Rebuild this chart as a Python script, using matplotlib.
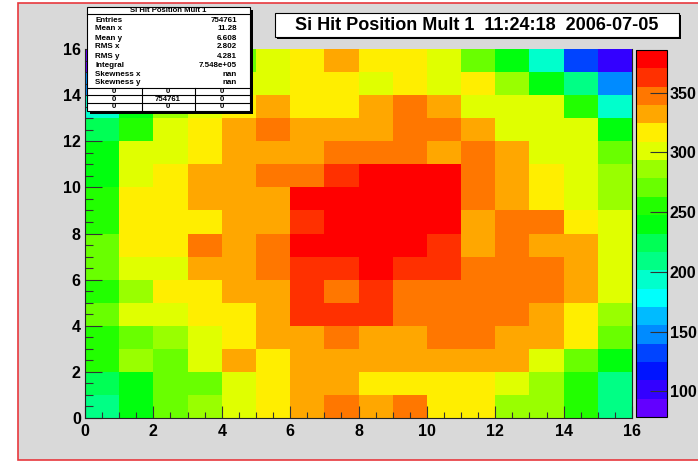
import colorsys
import matplotlib
matplotlib.use('Agg')
import matplotlib.pyplot as plt
import numpy as np
from matplotlib.colors import ListedColormap, BoundaryNorm
from matplotlib.patches import Rectangle
from matplotlib.lines import Line2D

# bin contents, top row (y bin 15) first, x bins 0..15 left to right
COUNTS = [
    [86, 132, 178, 224, 270, 301, 317, 332, 317, 317, 301, 270, 240, 194, 132, 102],
    [148, 209, 255, 286, 301, 301, 317, 317, 301, 317, 301, 317, 286, 240, 209, 148],
    [194, 240, 286, 301, 317, 332, 317, 317, 332, 347, 332, 301, 301, 301, 255, 194],
    [224, 255, 301, 317, 332, 347, 332, 332, 332, 347, 347, 332, 301, 301, 301, 240],
    [240, 301, 301, 317, 332, 332, 332, 347, 347, 347, 332, 347, 332, 301, 301, 270],
    [240, 301, 317, 332, 332, 347, 347, 362, 378, 378, 378, 347, 332, 317, 301, 286],
    [255, 317, 317, 332, 332, 332, 378, 378, 378, 378, 378, 347, 332, 317, 301, 286],
    [255, 317, 317, 317, 332, 332, 362, 378, 378, 378, 378, 332, 347, 347, 317, 301],
    [270, 317, 317, 347, 332, 347, 378, 378, 378, 378, 362, 332, 347, 332, 332, 301],
    [270, 301, 301, 332, 332, 347, 362, 362, 378, 362, 362, 347, 347, 347, 332, 301],
    [255, 286, 317, 317, 332, 332, 362, 347, 362, 347, 347, 347, 347, 347, 332, 301],
    [270, 301, 301, 317, 317, 332, 362, 362, 362, 347, 347, 347, 347, 332, 317, 286],
    [255, 270, 286, 301, 317, 332, 332, 347, 332, 332, 347, 347, 332, 332, 317, 270],
    [255, 286, 270, 301, 332, 317, 332, 332, 332, 332, 332, 332, 332, 301, 270, 240],
    [224, 240, 270, 270, 301, 317, 332, 332, 317, 317, 317, 317, 301, 286, 255, 209],
    [209, 240, 270, 286, 301, 317, 332, 347, 332, 347, 317, 317, 286, 286, 255, 209],
]
Z_MIN = 78.6
Z_MAX = 385.6
N_LEVELS = 20
Z_TICKS = [100, 150, 200, 250, 300, 350]
AXIS_TICKS = [0, 2, 4, 6, 8, 10, 12, 14, 16]

TITLE = 'Si Hit Position Mult 1  11:24:18  2006-07-05'
STATS_NAME = 'Si Hit Position Mult 1'
STATS_LABELS = ['Entries', 'Mean x', 'Mean y', 'RMS x', 'RMS y', 'Integral',
                'Skewness x', 'Skewness y']
STATS_VALUES = ['754761', '11.28', '6.608', '2.802', '4.281', '7.548e+05',
                'nan', 'nan']
STATS_TABLE = [['0', '0', '0'], ['0', '754761', '0'], ['0', '0', '0']]

W, H = 698, 462
FONT = 'Liberation Sans'


def fx(x):
    return x / W


def fy(y):
    return 1 - y / H


def root_palette():
    # ROOT "pretty" palette: 50 HLS hues 280 -> 0, picked for 20 contours
    colors = []
    for k in range(N_LEVELS):
        idx = int((k + 0.99) * 50 / N_LEVELS)
        hue = max(280 - (idx + 1) * 5.6, 0)
        colors.append(colorsys.hls_to_rgb(hue / 360, 0.5, 1.0))
    return ListedColormap(colors)


def box(fig, x0, y0, x1, y1, shadow=3):
    fig.patches.append(Rectangle((fx(x0 + shadow), fy(y1 + shadow)), fx(x1 - x0), (y1 - y0) / H,
                                 transform=fig.transFigure, facecolor='black',
                                 edgecolor='none', zorder=5))
    fig.patches.append(Rectangle((fx(x0), fy(y1)), fx(x1 - x0), (y1 - y0) / H,
                                 transform=fig.transFigure, facecolor='white',
                                 edgecolor='black', linewidth=0.8, zorder=6))


def hline(fig, x0, x1, y):
    fig.lines.append(Line2D([fx(x0), fx(x1)], [fy(y), fy(y)], transform=fig.transFigure,
                            color='black', linewidth=0.8, zorder=7))


def vline(fig, x, y0, y1):
    fig.lines.append(Line2D([fx(x), fx(x)], [fy(y0), fy(y1)], transform=fig.transFigure,
                            color='black', linewidth=0.8, zorder=7))


def main():
    fig = plt.figure(figsize=(W / 100, H / 100), dpi=100, facecolor='white')

    # canvas: grey with red border
    fig.patches.append(Rectangle((fx(18), fy(460)), fx(700 - 18), 457 / H,
                                 transform=fig.transFigure, facecolor='#d9d9d9',
                                 edgecolor='#e8383d', linewidth=1.2, zorder=-10))

    ax = fig.add_axes([fx(85), fy(418), fx(632 - 85), (418 - 49) / H])
    ax.patch.set_alpha(0)
    z = np.flipud(np.array(COUNTS, dtype=float))
    cmap = root_palette()
    levels = np.linspace(Z_MIN, Z_MAX, N_LEVELS + 1)
    norm = BoundaryNorm(levels, cmap.N, clip=True)
    mesh = ax.pcolormesh(np.arange(17), np.arange(17), z, cmap=cmap, norm=norm)

    ax.set_xlim(0, 16)
    ax.set_ylim(0, 16)
    ax.set_xticks(AXIS_TICKS)
    ax.set_yticks(AXIS_TICKS)
    ax.set_xticks(np.arange(0, 16.01, 0.5), minor=True)
    ax.set_yticks(np.arange(0, 16.01, 0.5), minor=True)
    ax.tick_params(axis='x', which='major', direction='in', length=8.4, width=0.8,
                   color='#333333', pad=4)
    ax.tick_params(axis='x', which='minor', direction='in', length=4.6, width=0.8,
                   color='#333333')
    ax.tick_params(axis='y', which='major', direction='in', length=11.9, width=0.8,
                   color='#333333', pad=3)
    ax.tick_params(axis='y', which='minor', direction='in', length=6, width=0.8,
                   color='#333333')
    for lab in ax.get_xticklabels() + ax.get_yticklabels():
        lab.set_fontfamily(FONT)
        lab.set_fontweight('bold')
        lab.set_fontsize(11.5)
    ax.spines['top'].set_visible(False)
    for s in ['left', 'bottom', 'right']:
        ax.spines[s].set_linewidth(0.8)
        ax.spines[s].set_color('#222222')

    cax = fig.add_axes([fx(636), fy(417), fx(31), (417 - 50) / H])
    cb = fig.colorbar(mesh, cax=cax, spacing='proportional')
    cb.set_ticks(Z_TICKS)
    cb.ax.minorticks_off()
    cb.ax.tick_params(direction='in', length=12, width=0.8, color='#333333', pad=2)
    cb.outline.set_linewidth(0.8)
    for lab in cb.ax.get_yticklabels():
        lab.set_fontfamily(FONT)
        lab.set_fontweight('bold')
        lab.set_fontsize(11.5)

    # title box
    box(fig, 275, 13, 679, 37, shadow=2)
    fig.text(fx(477), fy(25.5), TITLE, ha='center', va='center', fontsize=13,
             fontweight='bold', family=FONT, zorder=8)

    # stats box
    box(fig, 87, 7, 250, 111, shadow=3)
    fig.text(fx(168), fy(10.5), STATS_NAME, ha='center', va='center', fontsize=5.6,
             fontweight='bold', family=FONT, zorder=8)
    hline(fig, 87, 250, 14)
    for i, (name, val) in enumerate(zip(STATS_LABELS, STATS_VALUES)):
        y = 20 + 9 * i
        fig.text(fx(95), fy(y), name, ha='left', va='center', fontsize=5.8,
                 fontweight='bold', family=FONT, zorder=8)
        fig.text(fx(237), fy(y), val, ha='right', va='center', fontsize=5.8,
                 fontweight='bold', family=FONT, zorder=8)
    row_edges = [87.5, 95.3, 103.0, 111.0]
    for y in row_edges[:-1]:
        hline(fig, 87, 250, y)
    vline(fig, 141.7, 87.5, 111)
    vline(fig, 195, 87.5, 111)
    col_centers = [114, 168, 222]
    for r, row in enumerate(STATS_TABLE):
        yc = (row_edges[r] + row_edges[r + 1]) / 2
        for c, txt in enumerate(row):
            fig.text(fx(col_centers[c]), fy(yc), txt, ha='center', va='center',
                     fontsize=5.6, fontweight='bold', family=FONT, zorder=8)

    fig.savefig('out.png', dpi=100, facecolor=fig.get_facecolor())


if __name__ == '__main__':
    main()
